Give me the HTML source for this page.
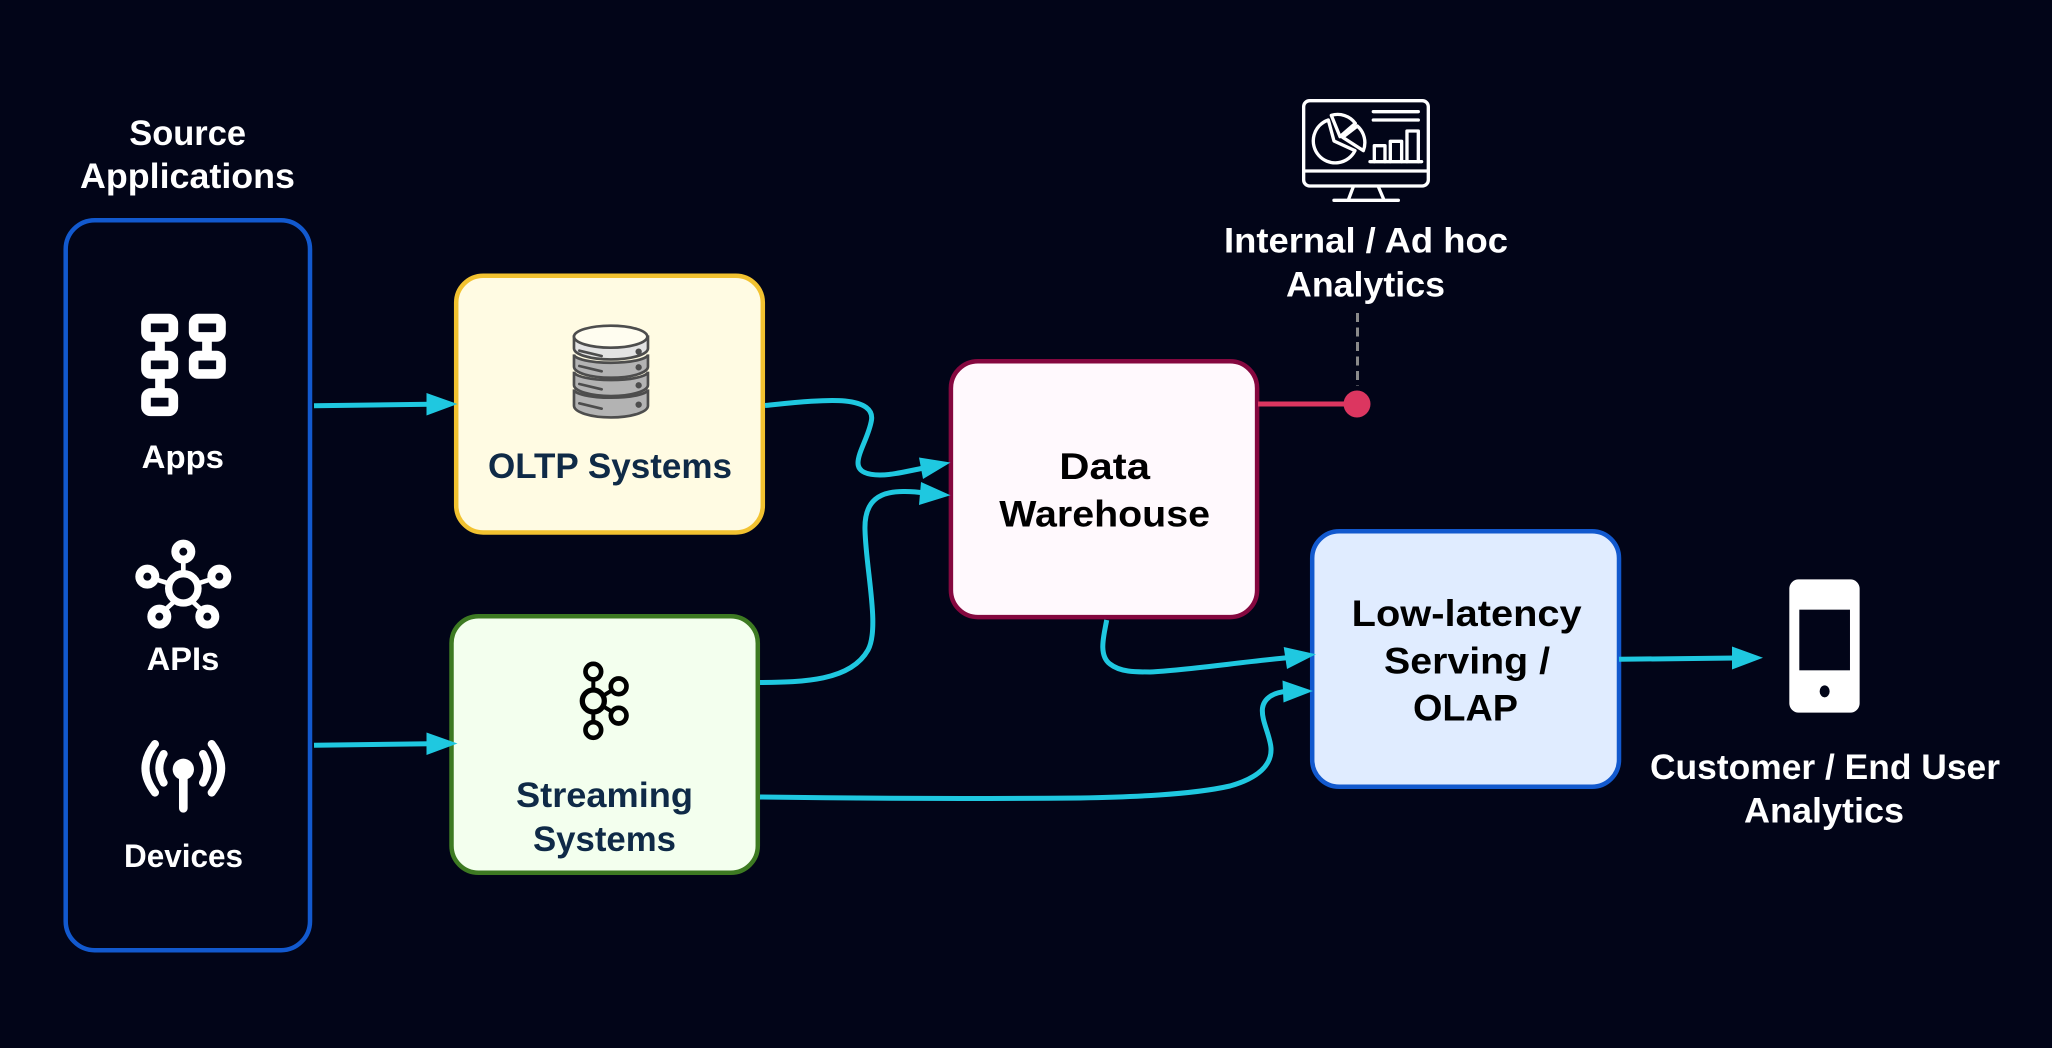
<!DOCTYPE html>
<html lang="en">
<head>
<meta charset="utf-8">
<title>Data Architecture Diagram</title>
<style>
html,body{margin:0;padding:0;background:#020518;width:2052px;height:1048px;overflow:hidden}
svg{display:block}
text{font-family:"Liberation Sans",sans-serif;font-weight:700;font-size:35px}
.w{fill:#fff}.n{fill:#0f2a47}.b{fill:#000;font-size:37px}
.w.s{font-size:32px}
.ar{fill:none;stroke:#1fc8e0;stroke-width:5}
.hd{fill:#1fc8e0}
</style>
</head>
<body>
<svg width="2052" height="1048" viewBox="0 0 2052 1048" xmlns="http://www.w3.org/2000/svg">
<rect width="2052" height="1048" fill="#020518"/>

<!-- Source container -->
<rect x="65.7" y="220.2" width="244.3" height="730" rx="29" fill="#020518" stroke="#1259ce" stroke-width="4.5"/>

<!-- Boxes -->
<rect x="456.2" y="275.7" width="306.6" height="256.8" rx="27" fill="#fffbe3" stroke="#f2c230" stroke-width="4.5"/>
<rect x="451.5" y="616.2" width="306.3" height="256.6" rx="27" fill="#f3ffee" stroke="#3d7a22" stroke-width="4.5"/>
<rect x="950.9" y="361.2" width="306.2" height="255.9" rx="27" fill="#fff9fd" stroke="#85083f" stroke-width="4.5"/>
<rect x="1312.2" y="531.2" width="306.8" height="255.6" rx="27" fill="#e0ecff" stroke="#1259ce" stroke-width="4.5"/>

<!-- Connectors -->
<path class="ar" d="M314 405.8L430 404.3"/>
<polygon class="hd" points="426.5,393 426.5,415.5 457.5,404"/>
<path class="ar" d="M314 745.3L430 743.8"/>
<polygon class="hd" points="426.5,732.5 426.5,755 457.5,743.5"/>
<path class="ar" d="M765 405.5C790 403 825 399 845 401C865 403 873 410 871.5 420C869 436 858 452 858 463C858 472 868 475 880 475C893 475 908 471 924 468"/>
<polygon class="hd" points="919,457.5 923,479 950.5,462.5"/>
<path class="ar" d="M760 682.5C800 682 850 682 868 650C880 628 866 570 865 530C864 500 880 491 905 491.5C912 491.5 918 492 924 493"/>
<polygon class="hd" points="921,482 919,505 950.5,495.3"/>
<path class="ar" d="M1106.7 620C1104 635 1098 655 1110 664C1120 672 1135 672 1150 672C1190 670 1240 662 1290 657.5"/>
<polygon class="hd" points="1283.7,647 1287,669 1316,654.2"/>
<path class="ar" d="M760 797C860 798.5 960 799 1080 798C1130 797 1190 795 1230 786C1258 778 1272 765 1271 748C1270 735 1261 720 1262.5 708C1264 698 1274 692 1287 691.5"/>
<polygon class="hd" points="1282.5,680.5 1283.5,702.5 1313,691"/>
<path class="ar" d="M1619 659.3L1736 658"/>
<polygon class="hd" points="1732,646.5 1732,669.5 1763,657.7"/>

<!-- Red pin -->
<path d="M1258 404H1357" stroke="#dc3660" stroke-width="5" fill="none"/>
<circle cx="1357" cy="404" r="13.5" fill="#dc3660"/>
<path d="M1357.5 313V386" stroke="#8a8a8a" stroke-width="3" stroke-dasharray="9 5.5" fill="none"/>

<!-- Apps icon -->
<g transform="translate(40,90) scale(.3333)" fill="none" stroke="#fff" stroke-width="29">
<rect x="318" y="686" width="82" height="55" rx="14"/>
<rect x="318" y="797" width="82" height="55" rx="14"/>
<rect x="318" y="909" width="82" height="55" rx="14"/>
<rect x="461" y="686" width="82" height="55" rx="14"/>
<rect x="461" y="797" width="82" height="55" rx="14"/>
<path d="M360 750V790M360 862V900M501 750V790"/>
</g>

<!-- APIs icon -->
<g transform="translate(40,500) scale(.3333)" fill="none" stroke="#fff">
<circle cx="430" cy="265" r="44" stroke-width="22"/>
<g stroke-width="24">
<circle cx="430" cy="155" r="24"/><circle cx="322" cy="230" r="24"/><circle cx="538" cy="230" r="24"/><circle cx="358" cy="350" r="24"/><circle cx="502" cy="350" r="24"/>
</g>
<path stroke-width="14" d="M430 180V215M347 238L385 250M513 238L475 250M375 330L402 305M485 330L458 305"/>
</g>

<!-- Devices icon -->
<g transform="translate(40,500) scale(.3333)" fill="#fff" stroke="none">
<circle cx="430" cy="808" r="32"/>
<rect x="417" y="815" width="26" height="123" rx="13"/>
<g fill="none" stroke="#fff" stroke-width="24" stroke-linecap="round">
<path d="M345 732Q288 805 345 878"/>
<path d="M371 762Q345 805 371 848"/>
<path d="M515 732Q572 805 515 878"/>
<path d="M489 762Q515 805 489 848"/>
</g>
</g>

<!-- DB icon -->
<g transform="translate(440,260) scale(.3333)" stroke="#4d4d4d" stroke-width="8">
<path fill="#b3b3b3" d="M402 388A110 25 0 0 0 624 388V437A110 35 0 0 1 402 437Z"/>
<path fill="#b3b3b3" d="M402 335A110 25 0 0 0 624 335V375A110 33 0 0 1 402 375Z"/>
<path fill="#b3b3b3" d="M402 283A110 25 0 0 0 624 283V320A110 33 0 0 1 402 320Z"/>
<path fill="#e3e3e3" d="M402 230V265A110 33 0 0 0 624 265V230Z"/>
<ellipse cx="512" cy="230" rx="110" ry="33" fill="#fffdf0"/>
<path fill="none" stroke-linecap="round" d="M418 272L485 288M418 318L485 334M418 372L485 388M418 430L485 446"/>
<g fill="#4d4d4d" stroke="none">
<circle cx="596" cy="275" r="9.5"/><circle cx="596" cy="322" r="9.5"/><circle cx="596" cy="376" r="9.5"/><circle cx="596" cy="434" r="9.5"/>
</g>
</g>

<!-- Kafka icon -->
<g transform="translate(440,600) scale(.3333)" fill="none" stroke="#000">
<circle cx="460" cy="303" r="33" stroke-width="16"/>
<g stroke-width="14">
<circle cx="460" cy="215" r="23.5"/><circle cx="536" cy="259" r="23.5"/><circle cx="536" cy="347" r="23.5"/><circle cx="460" cy="390" r="23.5"/>
</g>
<path stroke-width="12" d="M460 238V271M460 335V367M516 271L488 288M516 335L488 318"/>
</g>

<!-- Monitor icon -->
<g transform="translate(1200,80) scale(.3333)" fill="none" stroke="#fff" stroke-width="10" stroke-linecap="round" stroke-linejoin="round">
<rect x="311" y="62" width="374" height="256" rx="18"/>
<path d="M311 273H685M460 320L445 360M535 320L552 360M402 361H595"/>
<path d="M385 120A66 66 0 1 0 465 212L402 183Z"/>
<path d="M394 106L420 170L466 130A66 66 0 0 0 394 106Z"/>
<path d="M428 172L490 212A66 66 0 0 0 472 138Z"/>
<path d="M520 95H655M520 120H655M510 245H665"/>
<path d="M523 245V197H555V245M571 245V184H605V245M621 245V153H655V245"/>
</g>

<!-- Phone icon -->
<g transform="translate(1600,560) scale(.3333)">
<rect x="568" y="58" width="211" height="400" rx="28" fill="#fff"/>
<rect x="598" y="149" width="152" height="182" fill="#020518"/>
<ellipse cx="674" cy="394" rx="15" ry="18" fill="#020518"/>
</g>

<!-- Labels -->
<text class="w" x="129.3" y="145" textLength="116.7" lengthAdjust="spacingAndGlyphs">Source</text>
<text class="w" x="80" y="188" textLength="215" lengthAdjust="spacingAndGlyphs">Applications</text>
<text class="w s" x="141.7" y="468" textLength="82.3" lengthAdjust="spacingAndGlyphs">Apps</text>
<text class="w s" x="146.7" y="670" textLength="72.6" lengthAdjust="spacingAndGlyphs">APIs</text>
<text class="w s" x="124" y="867" textLength="119" lengthAdjust="spacingAndGlyphs">Devices</text>
<text class="n" x="488" y="478" textLength="244" lengthAdjust="spacingAndGlyphs">OLTP Systems</text>
<text class="n" x="516" y="807" textLength="177" lengthAdjust="spacingAndGlyphs">Streaming</text>
<text class="n" x="533" y="851" textLength="143" lengthAdjust="spacingAndGlyphs">Systems</text>
<text class="b" x="1059.3" y="479" textLength="90.7" lengthAdjust="spacingAndGlyphs">Data</text>
<text class="b" x="999.3" y="526.7" textLength="210.7" lengthAdjust="spacingAndGlyphs">Warehouse</text>
<text class="b" x="1351.7" y="626" textLength="230" lengthAdjust="spacingAndGlyphs">Low-latency</text>
<text class="b" x="1384" y="673.3" textLength="166" lengthAdjust="spacingAndGlyphs">Serving /</text>
<text class="b" x="1413" y="720.7" textLength="105" lengthAdjust="spacingAndGlyphs">OLAP</text>
<text class="w" x="1224" y="252.7" textLength="284" lengthAdjust="spacingAndGlyphs">Internal / Ad hoc</text>
<text class="w" x="1286" y="296.7" textLength="159" lengthAdjust="spacingAndGlyphs">Analytics</text>
<text class="w" x="1650" y="779" textLength="350" lengthAdjust="spacingAndGlyphs">Customer / End User</text>
<text class="w" x="1744" y="822.6" textLength="160" lengthAdjust="spacingAndGlyphs">Analytics</text>
</svg>
</body>
</html>
